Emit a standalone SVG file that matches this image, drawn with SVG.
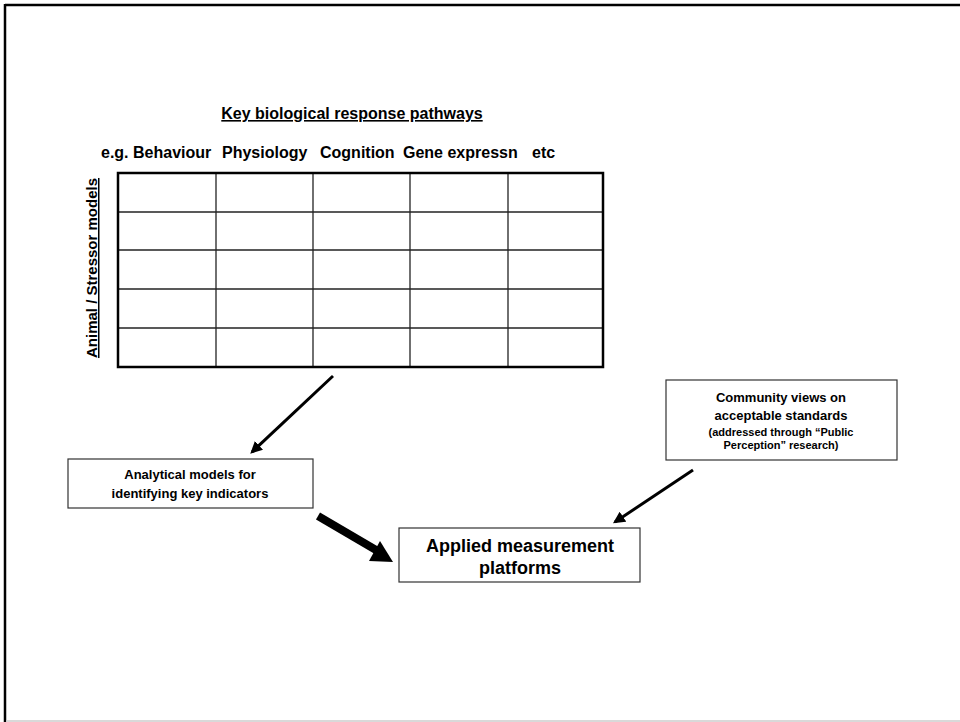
<svg xmlns="http://www.w3.org/2000/svg" width="960" height="722" viewBox="0 0 960 722">
  <defs>
    <style>
      text { font-family: "Liberation Sans", Arial, sans-serif; font-weight: bold; fill: #000; }
      .t16 { font-size: 16px; }
      .t15 { font-size: 15px; }
      .t13 { font-size: 13px; }
      .t11 { font-size: 11px; }
      .t18 { font-size: 18px; }
      .box { fill: #fff; stroke: #333; stroke-width: 1.2; }
      .grid { stroke: #222; stroke-width: 1.3; fill: none; }
      .thin { stroke: #000; stroke-width: 3; fill: none; }
    </style>
    <marker id="head" viewBox="0 0 10 10" refX="8" refY="5" markerWidth="4" markerHeight="4" orient="auto" markerUnits="strokeWidth">
      <path d="M0,0 L10,5 L0,10 z" fill="#000"/>
    </marker>
  </defs>

  <rect x="0" y="0" width="960" height="722" fill="#fff"/>

  <!-- slide frame -->
  <g id="frame">
    <line x1="5" y1="5" x2="960" y2="5" stroke="#000" stroke-width="2.5"/>
    <line x1="5" y1="4" x2="5" y2="722" stroke="#000" stroke-width="2.5"/>
    <line x1="6" y1="721" x2="960" y2="721" stroke="#ccc" stroke-width="1.5"/>
  </g>

  <!-- response pathway matrix -->
  <g id="matrix">
    <text class="t16" x="352" y="119" text-anchor="middle" text-decoration="underline">Key biological response pathways</text>
    <text class="t16" x="101" y="158">e.g. Behaviour</text>
    <text class="t16" x="222" y="158">Physiology</text>
    <text class="t16" x="320" y="158">Cognition</text>
    <text class="t16" x="403" y="158">Gene expressn</text>
    <text class="t16" x="532" y="158">etc</text>
    <text class="t15" transform="translate(97,268) rotate(-90)" text-anchor="middle" text-decoration="underline">Animal / Stressor models</text>
    <g class="grid">
      <line x1="216" y1="173" x2="216" y2="367"/>
      <line x1="313" y1="173" x2="313" y2="367"/>
      <line x1="410" y1="173" x2="410" y2="367"/>
      <line x1="508" y1="173" x2="508" y2="367"/>
      <line x1="118" y1="212" x2="603" y2="212"/>
      <line x1="118" y1="250" x2="603" y2="250"/>
      <line x1="118" y1="289" x2="603" y2="289"/>
      <line x1="118" y1="328" x2="603" y2="328"/>
    </g>
    <rect x="118" y="173" width="485" height="194" fill="none" stroke="#000" stroke-width="2.5"/>
  </g>

  <g id="analytical">
    <rect class="box" x="68" y="459" width="245" height="49"/>
    <text class="t13" x="190" y="479" text-anchor="middle">Analytical models for</text>
    <text class="t13" x="190" y="498" text-anchor="middle">identifying key indicators</text>
  </g>

  <g id="applied">
    <rect class="box" x="399" y="528" width="241" height="54"/>
    <text class="t18" x="520" y="552" text-anchor="middle">Applied measurement</text>
    <text class="t18" x="520" y="574" text-anchor="middle">platforms</text>
  </g>

  <g id="community">
    <rect class="box" x="666" y="380" width="231" height="80"/>
    <text class="t13" x="781" y="402" text-anchor="middle">Community views on</text>
    <text class="t13" x="781" y="420" text-anchor="middle">acceptable standards</text>
    <text class="t11" x="781" y="436" text-anchor="middle">(addressed through “Public</text>
    <text class="t11" x="781" y="449" text-anchor="middle">Perception” research)</text>
  </g>

  <!-- connectors -->
  <g id="connectors">
    <line class="thin" x1="333" y1="376" x2="252" y2="452" marker-end="url(#head)"/>
    <line class="thin" x1="693" y1="470" x2="615" y2="522" marker-end="url(#head)"/>
    <line x1="318" y1="516" x2="376" y2="550" stroke="#000" stroke-width="8"/>
    <path d="M369,561 L393,562 L380,541 z" fill="#000"/>
  </g>
</svg>
